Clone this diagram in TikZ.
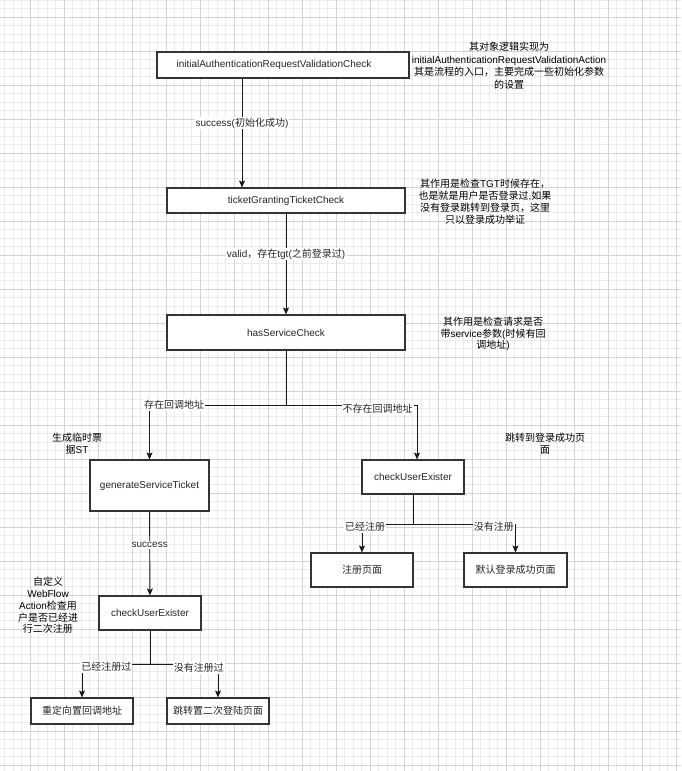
\documentclass[tikz,border=0pt]{standalone}
\usepackage{fontspec}
\setmainfont{Liberation Sans}
\newfontfamily\cjk{Noto Sans CJK SC}
\newcommand\zh[1]{{\cjk #1}}
\usetikzlibrary{arrows.meta}
\begin{document}
\begin{tikzpicture}[x=1pt,y=-1pt,
  font=\fontsize{10}{12}\selectfont,
  minorgrid/.style={draw=black!8, line width=0.9pt},
  majorgrid/.style={draw=black!17, line width=0.9pt},
  box/.style={draw=black!80, line width=1.1pt, fill=white, inner sep=0pt, text=black!85},
  note/.style={align=center, inner sep=0pt, text=black, font=\fontsize{10}{12}\selectfont},
  lbl/.style={fill=white, inner sep=1pt, text=black!85},
  link/.style={line width=0.9pt, draw=black!90},
  arr/.style={link, -{Stealth[length=7pt,width=6pt,inset=1.5pt]}}]
\useasboundingbox (0,0) rectangle (681,771);
\fill[white] (0,0) rectangle (681,771);
% grid
\foreach \i in {0,...,80} \draw[minorgrid] ({4.5+8.5*\i},0) -- ++(0,771);
\foreach \i in {0,...,91} \draw[minorgrid] (0,{8.5*\i}) -- ++(681,0);
\foreach \i in {0,...,19} \draw[majorgrid] ({30+34*\i},0) -- ++(0,771);
\foreach \i in {0,...,22} \draw[majorgrid] (0,{17+34*\i}) -- ++(681,0);

% boxes
\node[box, minimum width=252pt, minimum height=26pt] (b1) at (283,65) {initialAuthenticationRequestValidationCheck\hspace*{18pt}};
\node[box, minimum width=238pt, minimum height=25pt] (b2) at (286,200.5) {ticketGrantingTicketCheck};
\node[box, minimum width=238pt, minimum height=35pt] (b3) at (286,332.5) {hasServiceCheck};
\node[box, minimum width=119pt, minimum height=51pt] (gst) at (149.5,485.5) {generateServiceTicket};
\node[box, minimum width=102pt, minimum height=34pt] (cue1) at (413,477) {checkUserExister};
\node[box, minimum width=102pt, minimum height=34pt] (reg) at (362,570) {\zh{注册页面}};
\node[box, minimum width=103pt, minimum height=34pt] (dflt) at (515.5,570) {\zh{默认登录成功页面}};
\node[box, minimum width=102pt, minimum height=34pt] (cue2) at (150,613) {checkUserExister};
\node[box, minimum width=102pt, minimum height=26pt] (redir) at (82,711) {\zh{重定向置回调地址}};
\node[box, minimum width=102pt, minimum height=26pt] (jump) at (218,711) {\zh{跳转置二次登陆页面}};

% notes
\node[note, font=\fontsize{10}{12.5}\selectfont] (n1) at (509,65.5) {\zh{其对象逻辑实现为}\\initialAuthenticationRequestValidationAction\\\zh{其是流程的入口，主要完成一些初始化参数}\\\zh{的设置}};
\node[note] (n2) at (485,202) {\zh{其作用是检查}TGT\zh{时候存在，}\\\zh{也是就是用户是否登录过},\zh{如果}\\\zh{没有登录跳转到登录页，这里}\\\zh{只以登录成功举证}};
\node[note, font=\fontsize{10}{11.5}\selectfont] (n3) at (493,334) {\zh{其作用是检查请求是否}\\\zh{带}service\zh{参数}(\zh{时候有回}\\\zh{调地址})};
\node[note] (n4) at (77,443.5) {\zh{生成临时票}\\\zh{据}ST};
\node[note] (n5) at (545,444) {\zh{跳转到登录成功页}\\\zh{面}};
\node[note, font=\fontsize{10}{11.7}\selectfont] (n6) at (48,605.5) {\zh{自定义}\\WebFlow\\Action\zh{检查用}\\\zh{户是否已经进}\\\zh{行二次注册}};

% connectors
\coordinate (c1) at (242,0);
\coordinate (c2) at (417,0);
\coordinate (j1) at (286,405);
\coordinate (j2) at (413,524);
\coordinate (j3) at (150,664);

\draw[arr] (b1.south -| c1) -- node[lbl, pos=0.41] {success(\zh{初始化成功})} (b2.north -| c1);
\draw[arr] (b2) -- node[lbl, pos=0.4] {valid\zh{，存在}tgt(\zh{之前登录过})} (b3);

\draw[link] (b3.south) -- (j1);
\draw[arr] (j1) -| node[lbl, pos=0.41] {\zh{存在回调地址}} (gst.north);
\draw[arr] (j1) -| node[lbl, pos=0.35, yshift=-4pt] {\zh{不存在回调地址}} (cue1.north -| c2);

\draw[arr] (gst) -- node[lbl, pos=0.4] {success} (cue2);

\draw[link] (cue1.south) -- (j2);
\draw[arr] (j2) -| node[lbl, pos=0.47, yshift=-3pt] {\zh{已经注册}} (reg.north);
\draw[arr] (j2) -| node[lbl, pos=0.395, yshift=-3pt] {\zh{没有注册}} (dflt.north);

\draw[link] (cue2.south) -- (j3);
\draw[arr] (j3) -| node[lbl, pos=0.32, yshift=-3pt] {\zh{已经注册过}} (redir.north);
\draw[arr] (j3) -| node[lbl, pos=0.36, yshift=-4pt] {\zh{没有注册过}} (jump.north);
\end{tikzpicture}
\end{document}
